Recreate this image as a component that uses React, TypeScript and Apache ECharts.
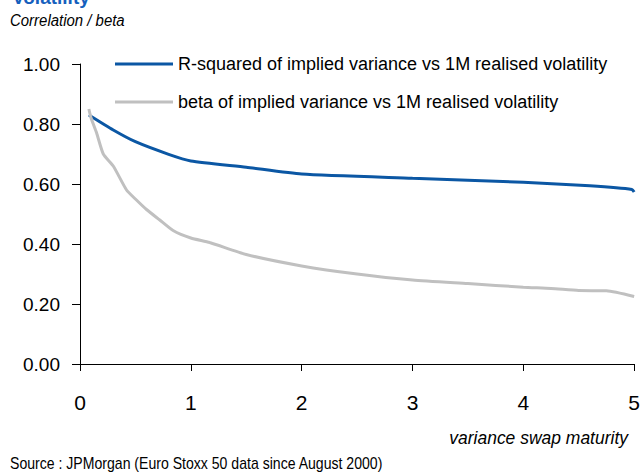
import React, { useEffect, useRef } from "react";
import * as echarts from "echarts";

const rsqMaturity = [0.08, 0.3, 0.5, 0.8, 1.0, 1.5, 2.0, 3.0, 4.0, 4.6, 4.98, 5.0];
const rsqValues = [0.83, 0.78, 0.741, 0.699, 0.677, 0.656, 0.633, 0.619, 0.606, 0.594, 0.582, 0.573];

const betaMaturity = [0.08, 0.1, 0.15, 0.21, 0.3, 0.42, 0.5, 0.6, 0.72, 0.84, 1.0, 1.17, 1.5, 2.0, 2.5, 3.0, 3.5, 4.0, 4.25, 4.5, 4.75, 5.0];
const betaValues = [0.85, 0.82, 0.77, 0.7, 0.66, 0.58, 0.55, 0.515, 0.48, 0.445, 0.42, 0.405, 0.365, 0.327, 0.3, 0.28, 0.268, 0.256, 0.252, 0.245, 0.244, 0.225];

const seriesNames = [
  "R-squared of implied variance vs 1M realised volatility",
  "beta of implied variance vs 1M realised volatility",
];
const yTicks = [0, 0.2, 0.4, 0.6, 0.8, 1.0];
const xTicks = [0, 1, 2, 3, 4, 5];

const FONT = "'Liberation Sans', Arial, sans-serif";

export default function App() {
  const ref = useRef<HTMLDivElement>(null);
  useEffect(() => {
    if (!ref.current) return;
    const chart = echarts.init(ref.current, null, { renderer: "svg" });
    chart.setOption({
      animation: false,
      backgroundColor: "#ffffff",
      textStyle: { fontFamily: FONT },
      grid: { left: 80, right: 7, top: 64, bottom: 108, containLabel: false },
      legend: {
        orient: "vertical",
        left: 110,
        top: 50,
        itemWidth: 58,
        itemHeight: 3,
        itemGap: 20,
        icon: "rect",
        textStyle: { fontFamily: FONT, fontSize: 18, color: "#000", lineHeight: 18 },
        data: seriesNames,
      },
      xAxis: {
        type: "value",
        min: xTicks[0],
        max: xTicks[xTicks.length - 1],
        interval: 1,
        splitLine: { show: false },
        axisLine: { lineStyle: { color: "#000", width: 1 } },
        axisTick: { show: true, length: 7, lineStyle: { color: "#000" } },
        axisLabel: { fontSize: 21, color: "#000", margin: 28, fontFamily: FONT },
      },
      yAxis: {
        type: "value",
        min: yTicks[0],
        max: yTicks[yTicks.length - 1],
        interval: 0.2,
        splitLine: { show: false },
        axisLine: { show: true, lineStyle: { color: "#000", width: 1 } },
        axisTick: { show: true, length: 8, lineStyle: { color: "#000" } },
        axisLabel: {
          fontSize: 19,
          color: "#000",
          margin: 20,
          fontFamily: FONT,
          formatter: (v: number) => v.toFixed(2),
        },
      },
      series: [
        {
          name: seriesNames[0],
          type: "line",
          showSymbol: false,
          symbol: "none",
          smooth: 0.2,
          lineStyle: { color: "#0B57A4", width: 3 },
          itemStyle: { color: "#0B57A4" },
          data: rsqMaturity.map((m, i) => [m, rsqValues[i]]),
        },
        {
          name: seriesNames[1],
          type: "line",
          showSymbol: false,
          symbol: "none",
          smooth: 0.2,
          lineStyle: { color: "#C0C0C0", width: 3 },
          itemStyle: { color: "#C0C0C0" },
          data: betaMaturity.map((m, i) => [m, betaValues[i]]),
        },
      ],
      graphic: [
        {
          type: "text",
          x: 12,
          y: -12,
          style: { text: "Volatility", fill: "#1560BD", font: `bold 19px ${FONT}` },
        },
        {
          type: "text",
          x: 10,
          y: 20,
          scaleX: 0.88,
          style: {
            text: "Correlation / beta",
            fill: "#000",
            font: `italic 17px ${FONT}`,
            textVerticalAlign: "middle",
          },
        },
        {
          type: "text",
          x: 628,
          y: 437,
          scaleX: 0.92,
          style: {
            text: "variance swap maturity",
            fill: "#000",
            font: `italic 19px ${FONT}`,
            textAlign: "right",
            textVerticalAlign: "middle",
          },
        },
        {
          type: "text",
          x: 10,
          y: 463,
          scaleX: 0.88,
          style: {
            text: "Source : JPMorgan (Euro Stoxx 50 data since August 2000)",
            fill: "#000",
            font: `16px ${FONT}`,
            textVerticalAlign: "middle",
          },
        },
      ],
    });
    return () => chart.dispose();
  }, []);
  return (
    <div
      ref={ref}
      style={{ position: "absolute", left: 0, top: 0, width: 643, height: 472 }}
    />
  );
}
